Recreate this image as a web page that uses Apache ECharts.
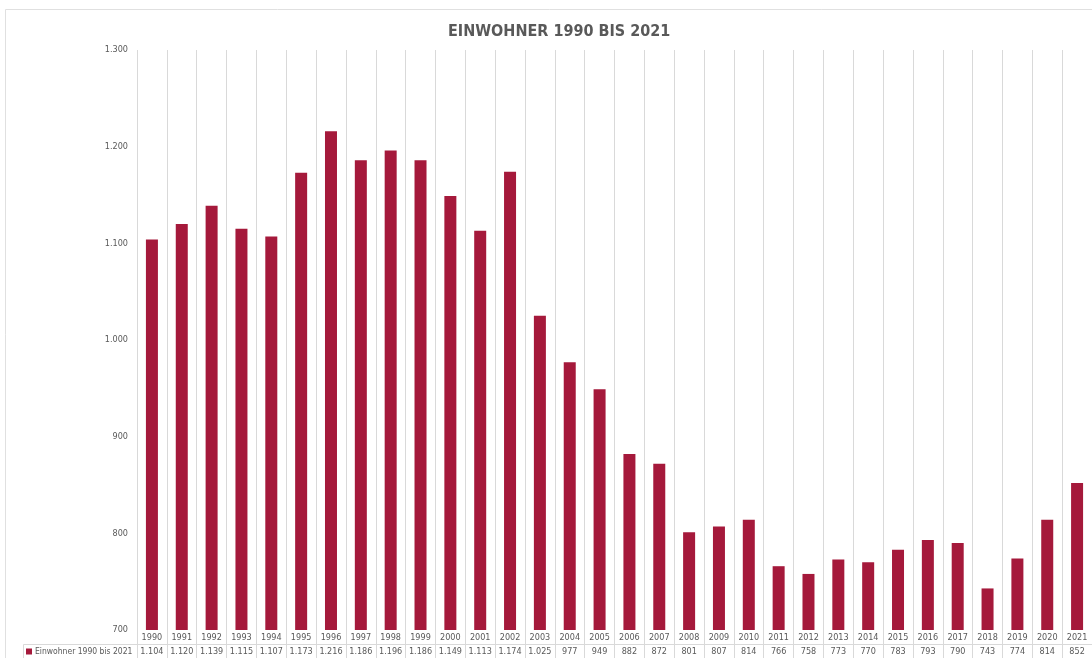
<!DOCTYPE html>
<html>
<head>
<meta charset="utf-8">
<script src="https://cdn.jsdelivr.net/npm/echarts@6/dist/echarts.min.js"></script>
<style>
html,body{margin:0;padding:0;background:#fff;}
#chart{width:1092px;height:658px;}
</style>
</head>
<body>
<div id="chart"></div>
<script>
const years = ['1990','1991','1992','1993','1994','1995','1996','1997','1998','1999','2000','2001','2002','2003','2004','2005','2006','2007','2008','2009','2010','2011','2012','2013','2014','2015','2016','2017','2018','2019','2020','2021'];
const einwohner = [1104,1120,1139,1115,1107,1173,1216,1186,1196,1186,1149,1113,1174,1025,977,949,882,872,801,807,814,766,758,773,770,783,793,790,743,774,814,852];
const seriesName = 'Einwohner 1990 bis 2021';
const titleText = 'EINWOHNER 1990 BIS 2021';
const yMin = 700, yMax = 1300, yStep = 100;

function fmt(v){
  const s = String(Math.round(v));
  return s.replace(/\B(?=(\d{3})+(?!\d))/g, '.');
}

const FONT = '"Liberation Sans Narrow","DejaVu Sans Condensed","Liberation Sans",sans-serif';
const GRID = '#d9d9d9';
const TXT = '#595959';
const BAR = '#a5193b';

const chart = echarts.init(document.getElementById('chart'), null, {renderer:'canvas'});
chart.setOption({
  animation:false,
  backgroundColor:'#fff',
  title:{
    text:titleText, left:443, top:19,
    textStyle:{fontFamily:FONT, fontSize:16, fontWeight:'bold', color:TXT}
  },
  legend:{
    data:[seriesName], left:21, top:642, icon:'rect', itemWidth:6, itemHeight:6, itemGap:4,
    textStyle:{fontFamily:FONT, fontSize:8.5, color:TXT, padding:[0,0,0,-2]}
  },
  grid:{left:137, top:50, width:957, height:580},
  xAxis:[{
    type:'category', data:years, position:'bottom',
    axisLine:{show:false},
    axisTick:{show:true, length:28, lineStyle:{color:GRID, width:1}},
    splitLine:{show:true, lineStyle:{color:GRID, width:1}},
    axisLabel:{fontFamily:FONT, fontSize:9, color:TXT, margin:3, interval:0}
  },{
    type:'category', data:years, position:'bottom', offset:14,
    axisLine:{show:true, lineStyle:{color:GRID, width:1}},
    axisTick:{show:false},
    axisLabel:{fontFamily:FONT, fontSize:9, color:TXT, margin:3, interval:0,
      formatter:function(v, i){ return fmt(einwohner[i]); }}
  }],
  yAxis:{
    type:'value', min:yMin, max:yMax, interval:yStep,
    axisLine:{show:false}, axisTick:{show:false}, splitLine:{show:false},
    axisLabel:{fontFamily:FONT, fontSize:9, color:TXT, margin:9, formatter:function(v){return fmt(v);}}
  },
  series:[{
    name:seriesName, type:'bar', data:einwohner, xAxisIndex:0,
    barWidth:12, itemStyle:{color:BAR}
  }],
  graphic:[
    {type:'rect', shape:{x:5.5, y:9.5, width:1200, height:800}, style:{fill:'none', stroke:'#e0e0e0', lineWidth:1}, silent:true},
    {type:'polyline', shape:{points:[[23.5,660],[23.5,644.5],[137,644.5]]}, style:{fill:'none', stroke:GRID, lineWidth:1}, silent:true}
  ]
});
</script>
</body>
</html>
